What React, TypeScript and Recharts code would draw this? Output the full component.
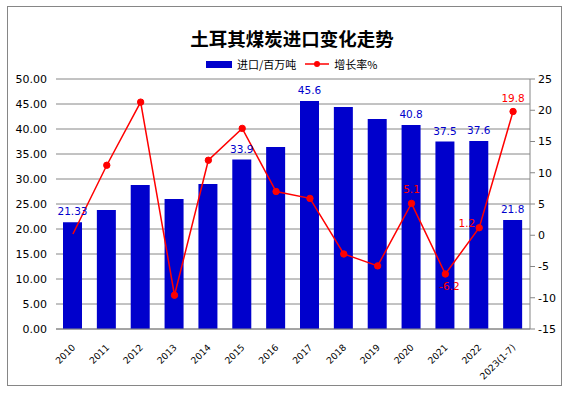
import React from 'react';
import { ComposedChart, Bar, Line, XAxis, YAxis, CartesianGrid, LabelList } from 'recharts';

const years = ['2010', '2011', '2012', '2013', '2014', '2015', '2016', '2017', '2018', '2019', '2020', '2021', '2022', '2023(1-7)'];
const imports = [21.33, 23.8, 28.8, 26.0, 29.0, 33.9, 36.4, 45.6, 44.4, 42.0, 40.8, 37.5, 37.6, 21.8];
const growth = [0.2, 11.2, 21.3, -9.6, 12.0, 17.1, 7.0, 5.9, -3.0, -4.9, 5.1, -6.2, 1.2, 19.8];
const importLabels = ['21.33', '', '', '', '', '33.9', '', '45.6', '', '', '40.8', '37.5', '37.6', '21.8'];
const growthLabels = ['', '', '', '', '', '', '', '', '', '', '5.1', '-6.2', '1.2', '19.8'];
const leftTicks = [0, 5, 10, 15, 20, 25, 30, 35, 40, 45, 50];
const rightTicks = [-15, -10, -5, 0, 5, 10, 15, 20, 25];

const data = years.map((year, i) => ({
  year,
  imports: imports[i],
  growth: growth[i],
  importLabel: importLabels[i],
  growthLabel: growthLabels[i],
}));

const BLUE = '#0000CC';
const RED = '#FF0000';
const GRAY = '#868686';
const FONT = '"DejaVu Sans", Verdana, sans-serif';
const CJK = '"Noto Sans CJK SC", sans-serif';

const YearTick = ({ x, y, payload }: any) => (
  <g transform={`translate(${x + 3},${y + 17})`}>
    <text textAnchor="end" transform="rotate(-45)" fontSize={9.2} fontFamily={FONT} fill="#000">
      {payload.value}
    </text>
  </g>
);

const BarLabel = ({ x, y, width, value }: any) => {
  if (!value) return null;
  return (
    <text x={x + width / 2} y={y - 7} textAnchor="middle" fontSize={10.5} fontFamily={FONT} fill={BLUE}>
      {value}
    </text>
  );
};

const LineLabel = ({ x, y, value }: any) => {
  if (!value) return null;
  let tx = x;
  let ty = y - 10;
  let anchor: 'middle' | 'end' = 'middle';
  if (value.startsWith('-')) {
    ty = y + 16;
    tx = x + 4;
  } else if (Number(value) < 3) {
    tx = x - 4;
    ty = y - 1;
    anchor = 'end';
  }
  return (
    <text x={tx} y={ty} textAnchor={anchor} fontSize={10.5} fontFamily={FONT} fill={RED}>
      {value}
    </text>
  );
};

const GrowthDot = ({ cx, cy, index }: any) =>
  index === 0 ? <g key={`d${index}`} /> : <circle key={`d${index}`} cx={cx} cy={cy} r={3.2} fill={RED} stroke={RED} />;

export default function App() {
  return (
    <div style={{ position: 'absolute', left: 0, top: 0, width: 572, height: 398, background: '#fff' }}>
      <div
        style={{
          position: 'absolute', left: 7, top: 6, width: 555, height: 380,
          boxSizing: 'border-box', border: `1px solid ${GRAY}`,
        }}
      />
      <div
        style={{
          position: 'absolute', left: 0, top: 28, width: 584, textAlign: 'center',
          fontFamily: CJK, fontWeight: 700, fontSize: 18.5, lineHeight: '20px', color: '#000',
        }}
      >
        土耳其煤炭进口变化走势
      </div>
      <div
        style={{
          position: 'absolute', left: 206, top: 57, display: 'flex', alignItems: 'center',
          fontFamily: CJK, fontSize: 11, lineHeight: '14px', color: '#000', whiteSpace: 'nowrap',
        }}
      >
        <span style={{ display: 'inline-block', width: 26, height: 7, background: BLUE, marginRight: 5 }} />
        <span>进口/百万吨</span>
        <svg width={24} height={10} style={{ marginLeft: 9, marginRight: 5 }}>
          <line x1={0} y1={5} x2={24} y2={5} stroke={RED} strokeWidth={1.5} />
          <circle cx={12} cy={5} r={3} fill={RED} />
        </svg>
        <span>增长率%</span>
      </div>
      <div style={{ position: 'absolute', left: 0, top: 0 }}>
        <ComposedChart width={572} height={398} data={data} margin={{ top: 79, right: 0, bottom: 0, left: 0 }}>
          <CartesianGrid yAxisId="left" vertical={false} stroke={GRAY} />
          <XAxis
            dataKey="year"
            height={69}
            interval={0}
            tickLine={false}
            tickSize={0}
            axisLine={{ stroke: GRAY }}
            tick={<YearTick />}
          />
          <YAxis
            yAxisId="left"
            width={56}
            domain={[0, 50]}
            ticks={leftTicks}
            tickFormatter={(v: number) => v.toFixed(2)}
            axisLine={false}
            tickLine={false}
            tickMargin={3}
            tick={{ fontSize: 11, fontFamily: FONT, fill: '#000' }}
          />
          <YAxis
            yAxisId="right"
            orientation="right"
            width={42}
            domain={[-15, 25]}
            ticks={rightTicks}
            axisLine={{ stroke: GRAY }}
            tickLine={{ stroke: GRAY }}
            tickSize={5}
            tickMargin={3}
            tick={{ fontSize: 11, fontFamily: FONT, fill: '#000' }}
          />
          <Bar yAxisId="left" dataKey="imports" fill={BLUE} barSize={19} isAnimationActive={false}>
            <LabelList dataKey="importLabel" content={<BarLabel />} />
          </Bar>
          <Line
            yAxisId="right"
            dataKey="growth"
            stroke={RED}
            strokeWidth={1.5}
            dot={<GrowthDot />}
            activeDot={false}
            isAnimationActive={false}
          >
            <LabelList dataKey="growthLabel" content={<LineLabel />} />
          </Line>
        </ComposedChart>
      </div>
    </div>
  );
}
